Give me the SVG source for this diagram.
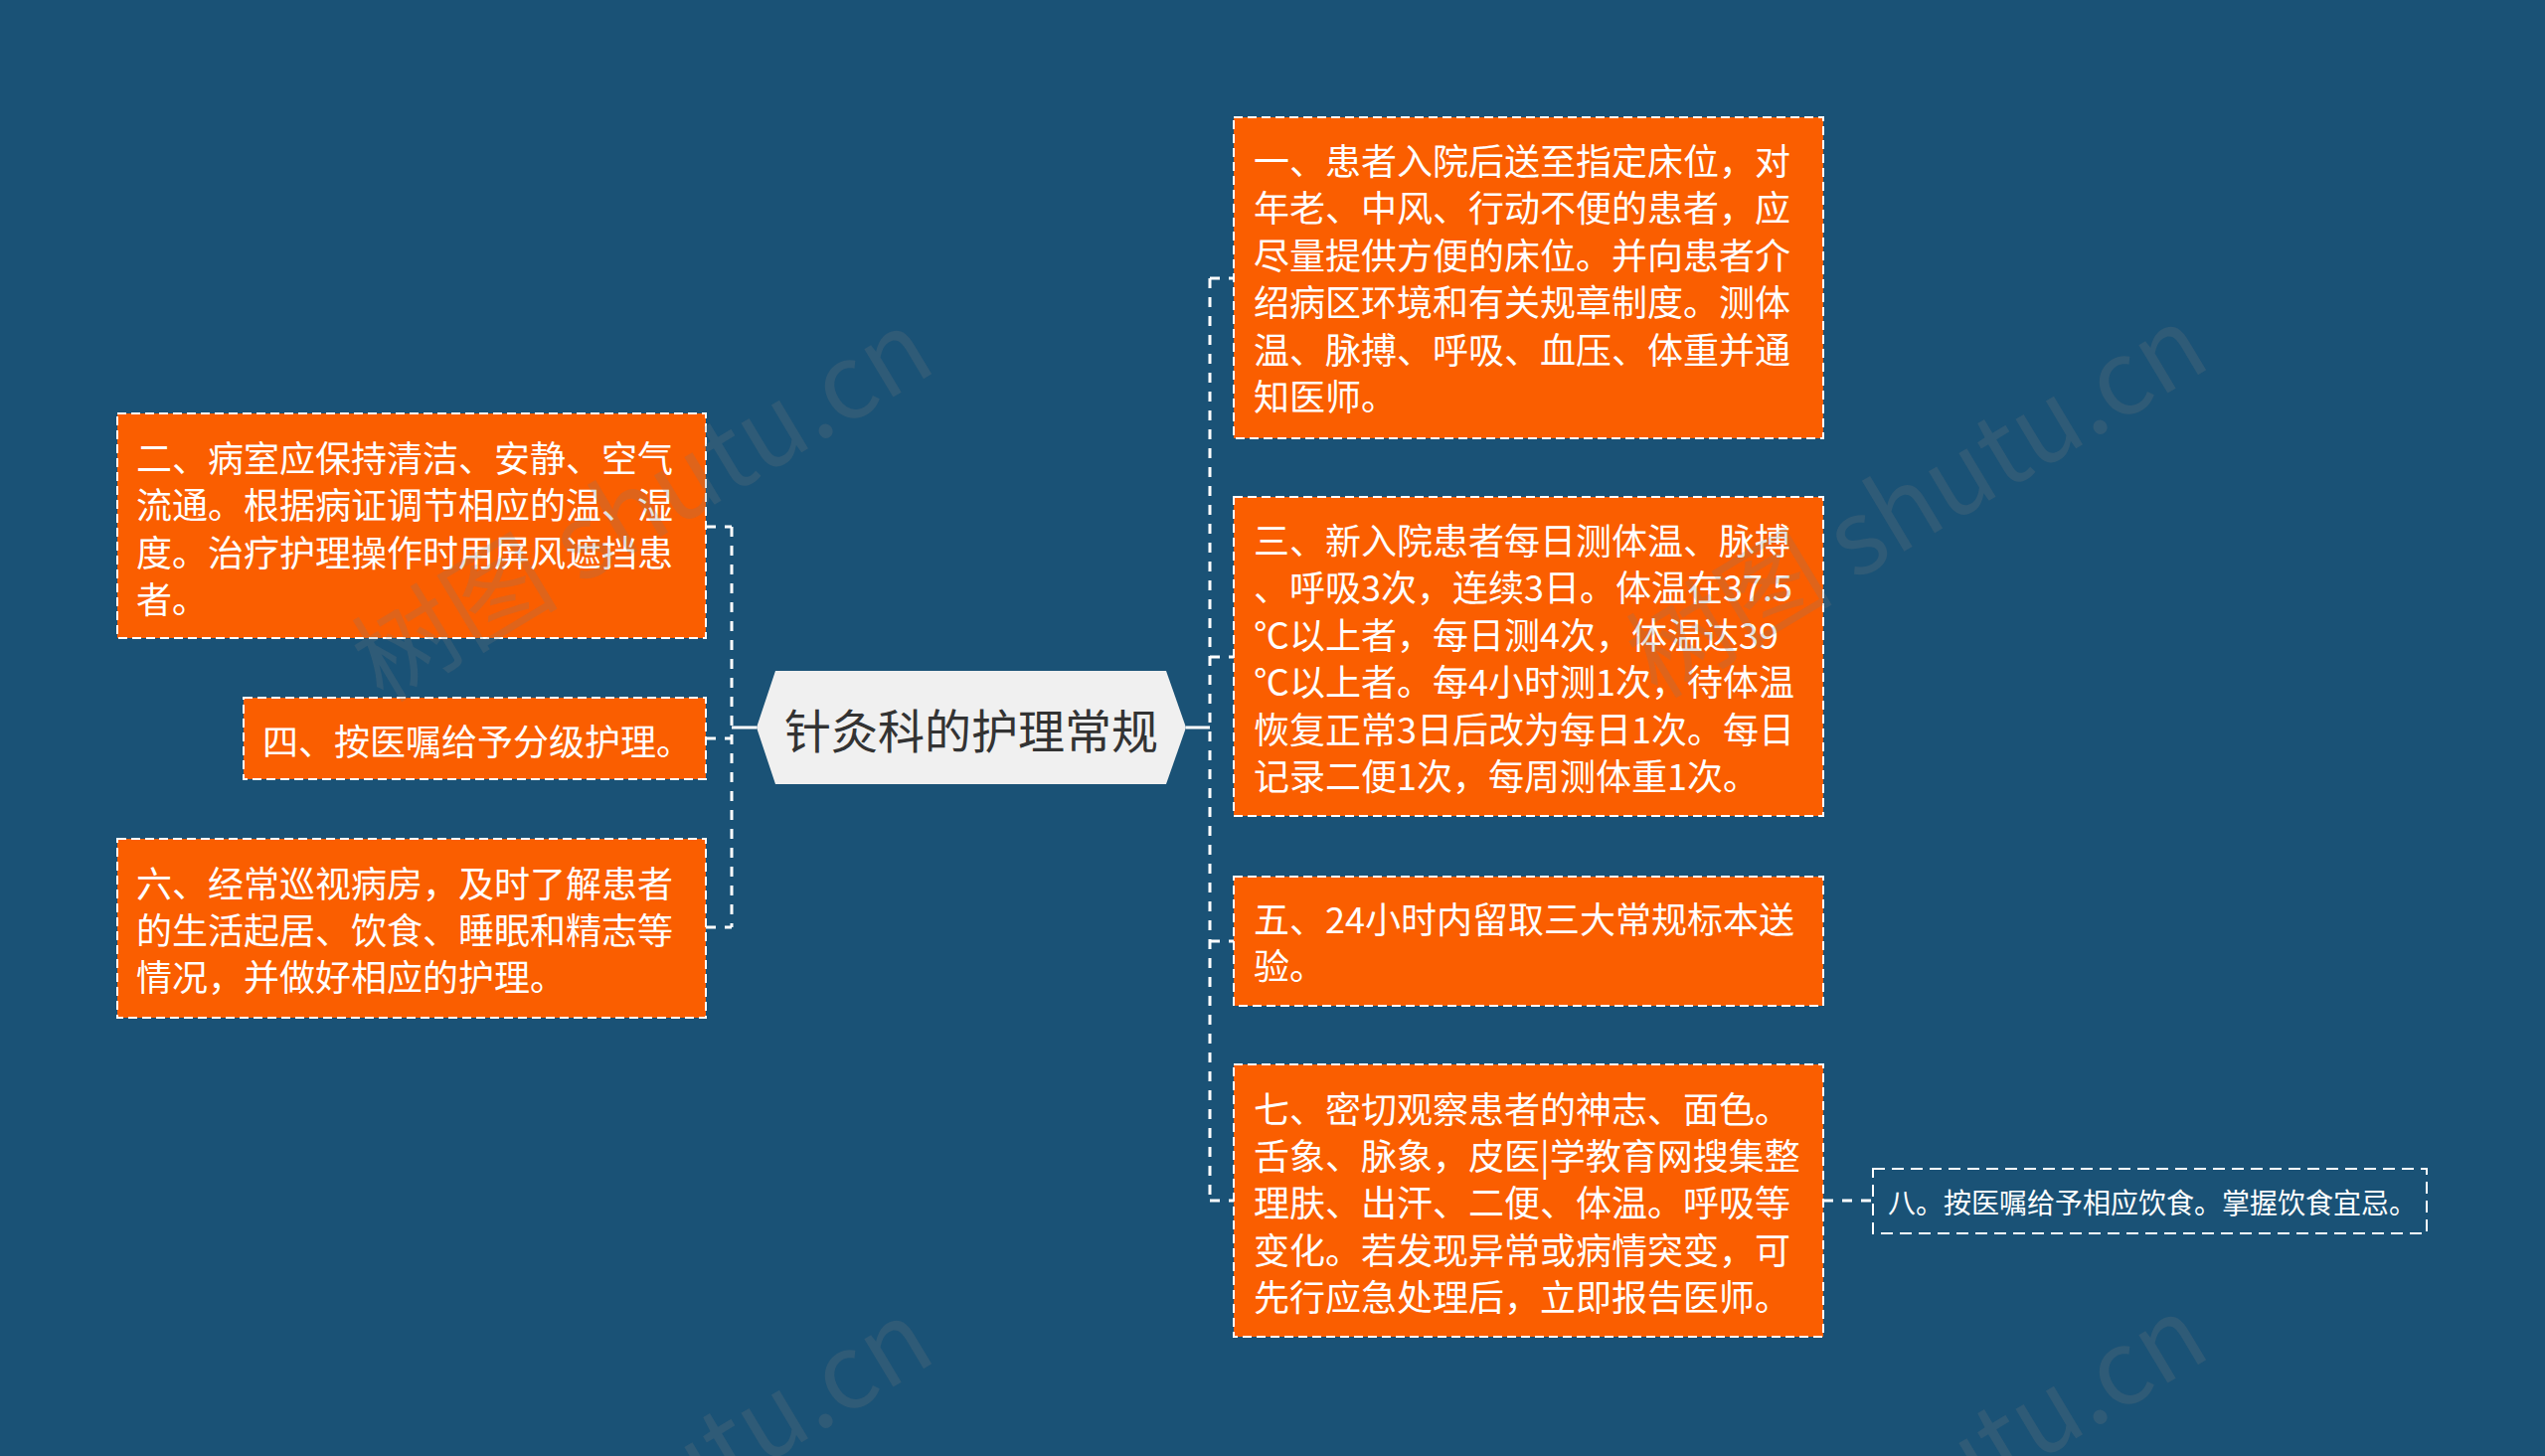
<svg xmlns="http://www.w3.org/2000/svg" width="2560" height="1465" viewBox="0 0 2560 1465">
<style>
.box{fill:#FA5E00;stroke:#FFFFFF;stroke-width:2;stroke-dasharray:9 5}
.plain{fill:none;stroke:#FFFFFF;stroke-width:2;stroke-dasharray:12 7}
.t{font-family:"Noto Sans CJK SC","Noto Sans",sans-serif;font-size:36px;fill:#FFFFFF;dominant-baseline:central}
.t8{font-family:"Noto Sans CJK SC","Noto Sans",sans-serif;font-size:28px;fill:#FFFFFF;dominant-baseline:central}
.ct{font-family:"Noto Sans CJK SC","Noto Sans",sans-serif;font-size:47px;fill:#333333;dominant-baseline:central;text-anchor:middle}
.dash{fill:none;stroke:#FFFFFF;stroke-width:3;stroke-dasharray:10 9}
.solid{fill:none;stroke:#FFFFFF;stroke-width:3}
.wm{font-family:"Noto Sans CJK SC","Noto Sans",sans-serif;font-size:104px;fill:#7A7A7A;fill-opacity:0.22}
</style>
<rect x="0" y="0" width="2560" height="1465" fill="#1A5276"/>

<g id="connectors">
  <path class="solid" d="M761,732 H736"/>
  <path class="dash" d="M736,530 V933"/>
  <path class="dash" d="M710,530 H736"/>
  <path class="dash" d="M710,743 H736"/>
  <path class="dash" d="M710,933 H736"/>
  <path class="solid" d="M1193,732 H1217"/>
  <path class="dash" d="M1217,280 V1208"/>
  <path class="dash" d="M1217,280 H1241"/>
  <path class="dash" d="M1217,661 H1241"/>
  <path class="dash" d="M1217,947 H1241"/>
  <path class="dash" d="M1217,1208 H1241"/>
  <path class="dash" d="M1834,1208 H1884"/>
</g>

<g id="center">
  <polygon points="761,732 780,675 1173,675 1193,732 1173,789 780,789" fill="#F0F0F0"/>
  <text class="ct" x="977" y="732">针灸科的护理常规</text>
</g>

<g id="n1">
  <rect class="box" x="1241" y="118" width="593" height="323"/>
  <text class="t">
    <tspan x="1261" y="160">一、患者入院后送至指定床位，对</tspan>
    <tspan x="1261" y="207.4">年老、中风、行动不便的患者，应</tspan>
    <tspan x="1261" y="254.8">尽量提供方便的床位。并向患者介</tspan>
    <tspan x="1261" y="302.2">绍病区环境和有关规章制度。测体</tspan>
    <tspan x="1261" y="349.6">温、脉搏、呼吸、血压、体重并通</tspan>
    <tspan x="1261" y="397">知医师。</tspan>
  </text>
</g>

<g id="n3">
  <rect class="box" x="1241" y="500" width="593" height="321"/>
  <text class="t">
    <tspan x="1261" y="542">三、新入院患者每日测体温、脉搏</tspan>
    <tspan x="1261" y="589.4">、呼吸3次，连续3日。体温在37.5</tspan>
    <tspan x="1261" y="636.8">℃以上者，每日测4次，体温达39</tspan>
    <tspan x="1261" y="684.2">℃以上者。每4小时测1次，待体温</tspan>
    <tspan x="1261" y="731.6">恢复正常3日后改为每日1次。每日</tspan>
    <tspan x="1261" y="779">记录二便1次，每周测体重1次。</tspan>
  </text>
</g>

<g id="n5">
  <rect class="box" x="1241" y="882" width="593" height="130"/>
  <text class="t">
    <tspan x="1261" y="923">五、24小时内留取三大常规标本送</tspan>
    <tspan x="1261" y="970.4">验。</tspan>
  </text>
</g>

<g id="n7">
  <rect class="box" x="1241" y="1071" width="593" height="274"/>
  <text class="t">
    <tspan x="1261" y="1113.5">七、密切观察患者的神志、面色。</tspan>
    <tspan x="1261" y="1160.9">舌象、脉象，皮医|学教育网搜集整</tspan>
    <tspan x="1261" y="1208.3">理肤、出汗、二便、体温。呼吸等</tspan>
    <tspan x="1261" y="1255.7">变化。若发现异常或病情突变，可</tspan>
    <tspan x="1261" y="1303.1">先行应急处理后，立即报告医师。</tspan>
  </text>
</g>

<g id="n8">
  <rect class="plain" x="1884" y="1176" width="557" height="65"/>
  <text class="t8" x="1899" y="1208.5">八。按医嘱给予相应饮食。掌握饮食宜忌。</text>
</g>

<g id="n2">
  <rect class="box" x="118" y="416" width="592" height="226"/>
  <text class="t">
    <tspan x="137" y="459">二、病室应保持清洁、安静、空气</tspan>
    <tspan x="137" y="506.4">流通。根据病证调节相应的温、湿</tspan>
    <tspan x="137" y="553.8">度。治疗护理操作时用屏风遮挡患</tspan>
    <tspan x="137" y="601.2">者。</tspan>
  </text>
</g>

<g id="n4">
  <rect class="box" x="245" y="702" width="465" height="82"/>
  <text class="t" x="264" y="743.5">四、按医嘱给予分级护理。</text>
</g>

<g id="n6">
  <rect class="box" x="118" y="844" width="592" height="180"/>
  <text class="t">
    <tspan x="137" y="886.5">六、经常巡视病房，及时了解患者</tspan>
    <tspan x="137" y="933.9">的生活起居、饮食、睡眠和精志等</tspan>
    <tspan x="137" y="981.3">情况，并做好相应的护理。</tspan>
  </text>
</g>

<g id="watermark">
  <text class="wm" text-anchor="middle" transform="translate(665,540) rotate(-31)">树图 shutu.cn</text>
  <text class="wm" text-anchor="middle" transform="translate(1947,536) rotate(-31)">树图 shutu.cn</text>
  <text class="wm" text-anchor="middle" transform="translate(665,1536) rotate(-31)">树图 shutu.cn</text>
  <text class="wm" text-anchor="middle" transform="translate(1947,1532) rotate(-31)">树图 shutu.cn</text>
</g>
</svg>
